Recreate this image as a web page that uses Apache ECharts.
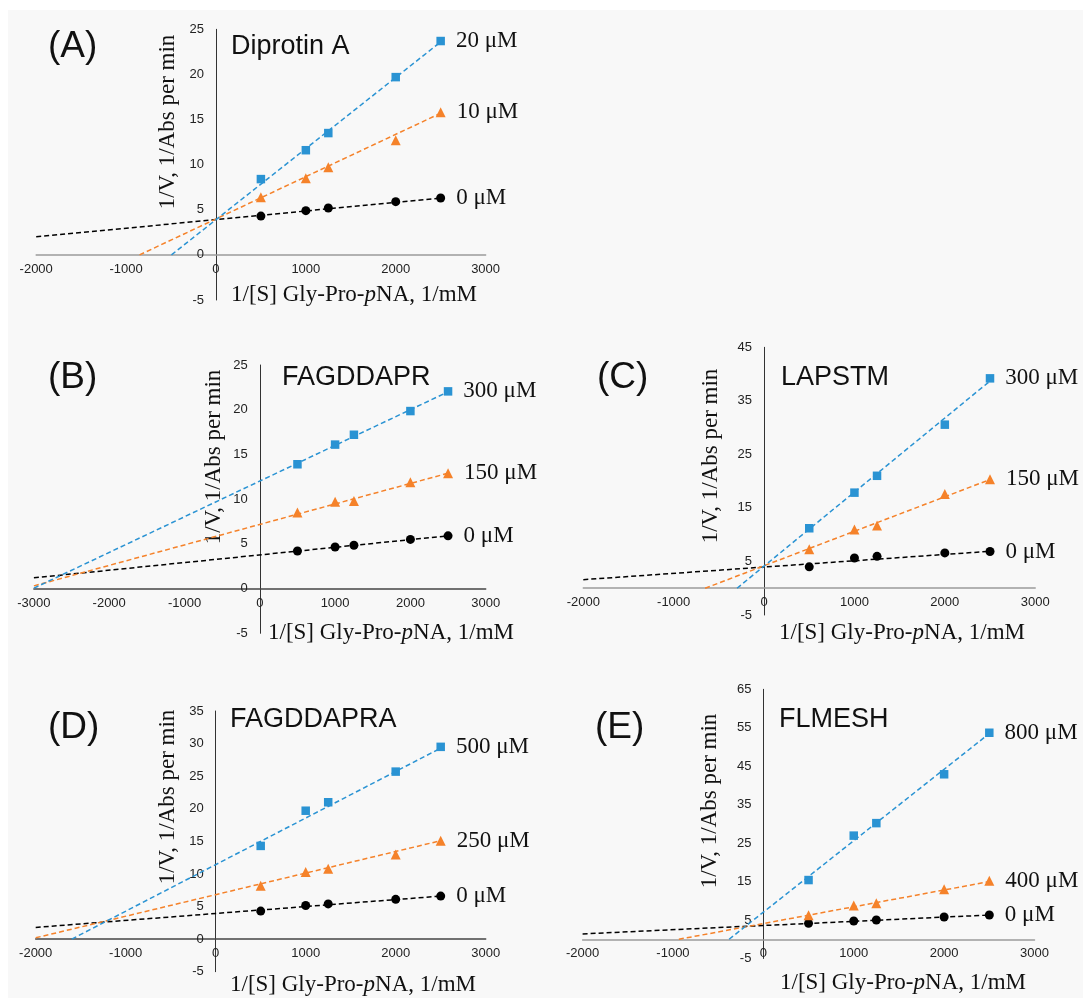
<!DOCTYPE html>
<html>
<head>
<meta charset="utf-8">
<script src="https://cdn.jsdelivr.net/npm/echarts@6/dist/echarts.min.js"></script>
<style>
  html, body { margin: 0; padding: 0; background: #ffffff; }
  #chart { width: 1083px; height: 998px; }
</style>
</head>
<body>
<div id="chart"></div>
<script>
// ---------------- DATA ----------------
const xVals = [500, 1000, 1250, 2000, 2500];   // 1/[S] Gly-Pro-pNA, 1/mM

// Panel A – Diprotin A
const labelsA = ['0 μM', '10 μM', '20 μM'];
const a0  = [4.3, 4.9, 5.2, 5.9, 6.3];
const a10 = [6.4, 8.5, 9.7, 12.7, 15.8];
const a20 = [8.4, 11.6, 13.5, 19.7, 23.7];
const trendA0  = [[-2000, 2.0], [2500, 6.3]];
const trendA10 = [[-850, 0], [2500, 15.7]];
const trendA20 = [[-495, 0], [2500, 23.6]];

// Panel B – FAGDDAPR
const labelsB = ['0 μM', '150 μM', '300 μM'];
const b0   = [4.2, 4.65, 4.85, 5.5, 5.9];
const b150 = [8.5, 9.7, 9.8, 11.9, 12.9];
const b300 = [13.9, 16.1, 17.2, 19.85, 22.05];
const trendB0   = [[-3000, 1.2], [2500, 5.9]];
const trendB150 = [[-3000, 0.3], [2500, 12.9]];
const trendB300 = [[-3000, 0.05], [2500, 22.0]];

// Panel C – LAPSTM
const labelsC = ['0 μM', '150 μM', '300 μM'];
const c0   = [4.0, 5.65, 5.95, 6.6, 6.85];
const c150 = [7.3, 10.95, 11.7, 17.6, 20.35];
const c300 = [11.2, 17.85, 21.0, 30.55, 39.2];
const trendC0   = [[-2000, 1.6], [2500, 6.9]];
const trendC150 = [[-652, 0], [2500, 20.3]];
const trendC300 = [[-299, 0], [2500, 38.7]];

// Panel D – FAGDDAPRA
const labelsD = ['0 μM', '250 μM', '500 μM'];
const d0   = [4.3, 5.15, 5.4, 6.1, 6.6];
const d250 = [8.2, 10.3, 10.8, 13.0, 15.1];
const d500 = [14.3, 19.7, 21.0, 25.7, 29.5];
const trendD0   = [[-2000, 1.8], [2500, 6.6]];
const trendD250 = [[-2000, 0.2], [2500, 15.1]];
const trendD500 = [[-1599, 0], [2500, 29.3]];

// Panel E – FLMESH
const labelsE = ['0 μM', '400 μM', '800 μM'];
const e0   = [4.15, 4.75, 5.0, 5.8, 6.3];
const e400 = [6.25, 8.75, 9.35, 13.0, 15.2];
const e800 = [15.4, 26.95, 30.2, 42.9, 53.7];
const trendE0   = [[-2000, 1.4], [2500, 6.3]];
const trendE400 = [[-935, 0], [2500, 15.0]];
const trendE800 = [[-379, 0], [2500, 53.5]];

// Axis ranges / tick labels
const xRangeA = [-2000, 3000], xRangeB = [-3000, 3000], xRangeC = [-2000, 3000], xRangeD = [-2000, 3000], xRangeE = [-2000, 3000];
const yTicksA = [-5, 0, 5, 10, 15, 20, 25];
const yTicksB = [-5, 0, 5, 10, 15, 20, 25];
const yTicksC = [-5, 5, 15, 25, 35, 45];
const yTicksD = [-5, 0, 5, 10, 15, 20, 25, 30, 35];
const yTicksE = [-5, 5, 15, 25, 35, 45, 55, 65];

const panelLetters = ['(A)', '(B)', '(C)', '(D)', '(E)'];
const panelTitles = ['Diprotin A', 'FAGDDAPR', 'LAPSTM', 'FAGDDAPRA', 'FLMESH'];
const yTitle = '1/V, 1/Abs per min';

// ---------------- STYLE / LAYOUT ----------------
const SANS = 'Liberation Sans, Arial, sans-serif';
const SERIF = 'Liberation Serif, Times New Roman, serif';
const BLUE = '#2a93d3', ORANGE = '#f5822a', BLACK = '#000000';

const panels = [
  { grid: { left: 36.2, top: 29.3, width: 449.4, height: 270.7 }, xr: xRangeA, yt: yTicksA, xLineColor: '#9a9a9a',
    labels: labelsA, pts: [a0, a10, a20], trends: [trendA0, trendA10, trendA20],
    letter: [48, 47], title: [231, 47], xTitle: [231, 295], yTitle: [168, 122] },
  { grid: { left: 33.9, top: 365, width: 451.8, height: 268.3 }, xr: xRangeB, yt: yTicksB, xLineColor: '#444444',
    labels: labelsB, pts: [b0, b150, b300], trends: [trendB0, trendB150, trendB300],
    letter: [48, 378], title: [282, 378], xTitle: [268, 633], yTitle: [214, 457] },
  { grid: { left: 583.3, top: 347.3, width: 451.9, height: 267.7 }, xr: xRangeC, yt: yTicksC, xLineColor: '#9a9a9a',
    labels: labelsC, pts: [c0, c150, c300], trends: [trendC0, trendC150, trendC300],
    letter: [597, 378], title: [781, 378], xTitle: [779, 633], yTitle: [711, 456] },
  { grid: { left: 35.7, top: 711, width: 450, height: 260.7 }, xr: xRangeD, yt: yTicksD, xLineColor: '#444444',
    labels: labelsD, pts: [d0, d250, d500], trends: [trendD0, trendD250, trendD500],
    letter: [48, 728], title: [230, 720], xTitle: [230, 985], yTitle: [168, 797] },
  { grid: { left: 582.6, top: 689.3, width: 451.9, height: 269.2 }, xr: xRangeE, yt: yTicksE, xLineColor: '#9a9a9a',
    labels: labelsE, pts: [e0, e400, e800], trends: [trendE0, trendE400, trendE800],
    letter: [595, 728], title: [779, 720], xTitle: [780, 983], yTitle: [710, 801] }
];

const colors = [BLACK, ORANGE, BLUE];
const symbols = ['circle', 'triangle', 'rect'];
const symbolSizes = [9, 10, 8.5];

const grids = [], xAxes = [], yAxes = [], series = [], graphics = [];

graphics.push({ type: 'rect', shape: { x: 8, y: 10, width: 1075, height: 988 }, style: { fill: '#f8f8f8' }, z: -10, silent: true });

panels.forEach((p, i) => {
  const g = p.grid;
  const yt = p.yt;
  const yMin = yt[0], yMax = yt[yt.length - 1];
  // place each axis (line + labels) through the other axis' zero
  const yAxisOffset = -g.width * (0 - p.xr[0]) / (p.xr[1] - p.xr[0]);
  const xAxisOffset = -g.height * (0 - yMin) / (yMax - yMin);

  grids.push(Object.assign({ containLabel: false }, g));
  xAxes.push({
    type: 'value', gridIndex: i, min: p.xr[0], max: p.xr[1], interval: 1000,
    position: 'bottom', offset: xAxisOffset,
    splitLine: { show: false }, axisTick: { show: false },
    axisLine: { onZero: false, lineStyle: { color: p.xLineColor, width: 1.5 } },
    axisLabel: { fontFamily: SANS, fontSize: 13, color: '#222', margin: 8, formatter: v => String(v) }
  });
  yAxes.push({
    type: 'value', gridIndex: i, min: yMin, max: yMax, interval: 5,
    position: 'left', offset: yAxisOffset,
    splitLine: { show: false }, axisTick: { show: false },
    axisLine: { onZero: false, lineStyle: { color: '#333', width: 1 } },
    axisLabel: {
      fontFamily: SANS, fontSize: 13, color: '#222', margin: 12,
      formatter: v => (yt.indexOf(Math.round(v)) >= 0 ? String(Math.round(v)) : '')
    }
  });
  // trend lines
  p.trends.forEach((t, k) => {
    series.push({
      type: 'line', xAxisIndex: i, yAxisIndex: i, data: t, showSymbol: false, silent: true, z: 2,
      lineStyle: { color: colors[k], width: 1.5, type: [5, 3] }
    });
  });
  // data points
  p.pts.forEach((vals, k) => {
    const name = p.labels[k];
    series.push({
      type: 'scatter', name: name, xAxisIndex: i, yAxisIndex: i, z: 3,
      data: xVals.map((x, j) => [x, vals[j]]),
      symbol: symbols[k], symbolSize: symbolSizes[k],
      itemStyle: { color: colors[k], opacity: 1 },
      label: {
        show: true, position: 'right', distance: 11,
        fontFamily: SERIF, fontSize: 23, color: '#111',
        formatter: q => (q.dataIndex === xVals.length - 1 ? name : '')
      }
    });
  });
  // texts
  graphics.push({ type: 'text', x: p.letter[0], y: p.letter[1],
    style: { text: panelLetters[i], font: '37px ' + SANS, fill: '#111', textAlign: 'left', textVerticalAlign: 'middle' } });
  graphics.push({ type: 'text', x: p.title[0], y: p.title[1],
    style: { text: panelTitles[i], font: '27px ' + SANS, fill: '#111', textAlign: 'left', textVerticalAlign: 'middle' } });
  graphics.push({ type: 'text', x: p.xTitle[0], y: p.xTitle[1],
    style: { text: '1/[S] Gly-Pro-{i|p}NA, 1/mM', font: '23px ' + SERIF, fill: '#111', textAlign: 'left', textVerticalAlign: 'middle',
      rich: { i: { fontStyle: 'italic', fontFamily: SERIF, fontSize: 23, fill: '#111' } } } });
  graphics.push({ type: 'text', x: p.yTitle[0], y: p.yTitle[1], rotation: Math.PI / 2,
    style: { text: yTitle, font: '23px ' + SERIF, fill: '#111', textAlign: 'center', textVerticalAlign: 'middle' } });
});

const chart = echarts.init(document.getElementById('chart'), null, { renderer: 'canvas' });
chart.setOption({
  backgroundColor: '#ffffff',
  animation: false,
  grid: grids,
  xAxis: xAxes,
  yAxis: yAxes,
  series: series,
  graphic: graphics
});
</script>
</body>
</html>
